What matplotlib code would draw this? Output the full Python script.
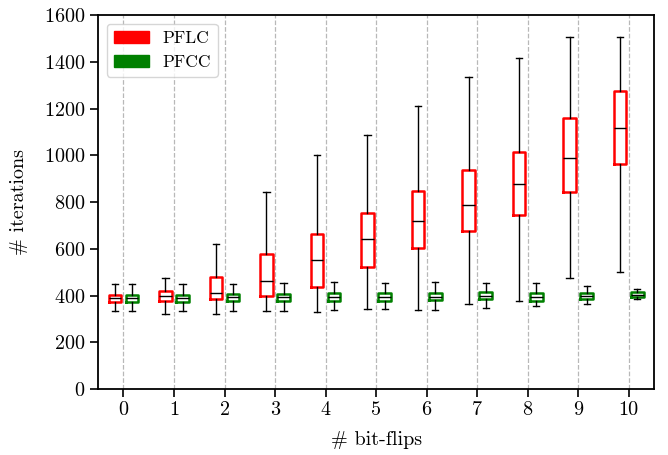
import matplotlib
matplotlib.use("Agg")
import matplotlib.pyplot as plt
import matplotlib.patches as mpatches
import numpy as np

plt.rcParams['font.family'] = 'serif'
plt.rcParams['font.serif'] = ['cmr10']
plt.rcParams['mathtext.fontset'] = 'cm'
plt.rcParams['axes.formatter.use_mathtext'] = True
plt.rcParams['axes.unicode_minus'] = False

bitflips = list(range(11))

# PFLC box stats: low whisker, q1, median, q3, high whisker
pflc_low = [332, 322, 319, 333, 331, 343, 339, 362, 378, 473, 500]
pflc_q1 = [373, 378, 385, 398, 438, 523, 602, 674, 746, 841, 961]
pflc_med = [389, 397, 410, 460, 552, 640, 717, 789, 879, 988, 1115]
pflc_q3 = [403, 420, 480, 578, 664, 752, 847, 939, 1016, 1161, 1275]
pflc_high = [448, 477, 621, 842, 1000, 1085, 1212, 1333, 1414, 1504, 1504]

# PFCC box stats
pfcc_low = [335, 335, 335, 333, 338, 341, 338, 345, 356, 362, 386]
pfcc_q1 = [373, 373, 375, 375, 378, 378, 379, 385, 378, 385, 393]
pfcc_med = [389, 389, 393, 393, 395, 395, 395, 399, 395, 397, 403]
pfcc_q3 = [403, 403, 405, 405, 412, 412, 412, 416, 410, 409, 413]
pfcc_high = [448, 448, 448, 453, 456, 453, 456, 454, 454, 439, 430]


def make_stats(low, q1, med, q3, high):
    return [dict(whislo=a, q1=b, med=c, q3=d, whishi=e, fliers=[])
            for a, b, c, d, e in zip(low, q1, med, q3, high)]


fig, ax = plt.subplots(figsize=(6.68, 4.55), dpi=100)

x = np.array(bitflips)
off = 0.17
w = 0.25

for stats, pos, col in [
        (make_stats(pflc_low, pflc_q1, pflc_med, pflc_q3, pflc_high), x - off, 'red'),
        (make_stats(pfcc_low, pfcc_q1, pfcc_med, pfcc_q3, pfcc_high), x + off, 'green')]:
    ax.bxp(stats, positions=pos, widths=w, showfliers=False,
           boxprops=dict(color=col, linewidth=1.8),
           medianprops=dict(color='black', linewidth=1.0),
           whiskerprops=dict(color='black', linewidth=1.0),
           capprops=dict(color='black', linewidth=1.0))

ax.set_xticks(x)
ax.set_xticklabels([str(b) for b in bitflips])
ax.set_xlim(-0.5, 10.5)
ax.set_ylim(0, 1600)
ax.set_yticks(np.arange(0, 1601, 200))
ax.xaxis.grid(True, linestyle='--', color='#b8b8b8', linewidth=0.9)
ax.set_axisbelow(True)
ax.tick_params(labelsize=14.5, width=1.2, length=5.5)
for s in ax.spines.values():
    s.set_linewidth(1.3)

ax.set_xlabel('# bit-flips', fontsize=14.5, labelpad=8)
ax.set_ylabel('# iterations', fontsize=14.5, labelpad=12)

handles = [mpatches.Patch(color='red', label='PFLC'),
           mpatches.Patch(color='green', label='PFCC')]
ax.legend(handles=handles, loc='upper left', fontsize=12.5)

fig.subplots_adjust(left=0.147, right=0.979, top=0.967, bottom=0.145)
fig.savefig('out.png', dpi=100)
